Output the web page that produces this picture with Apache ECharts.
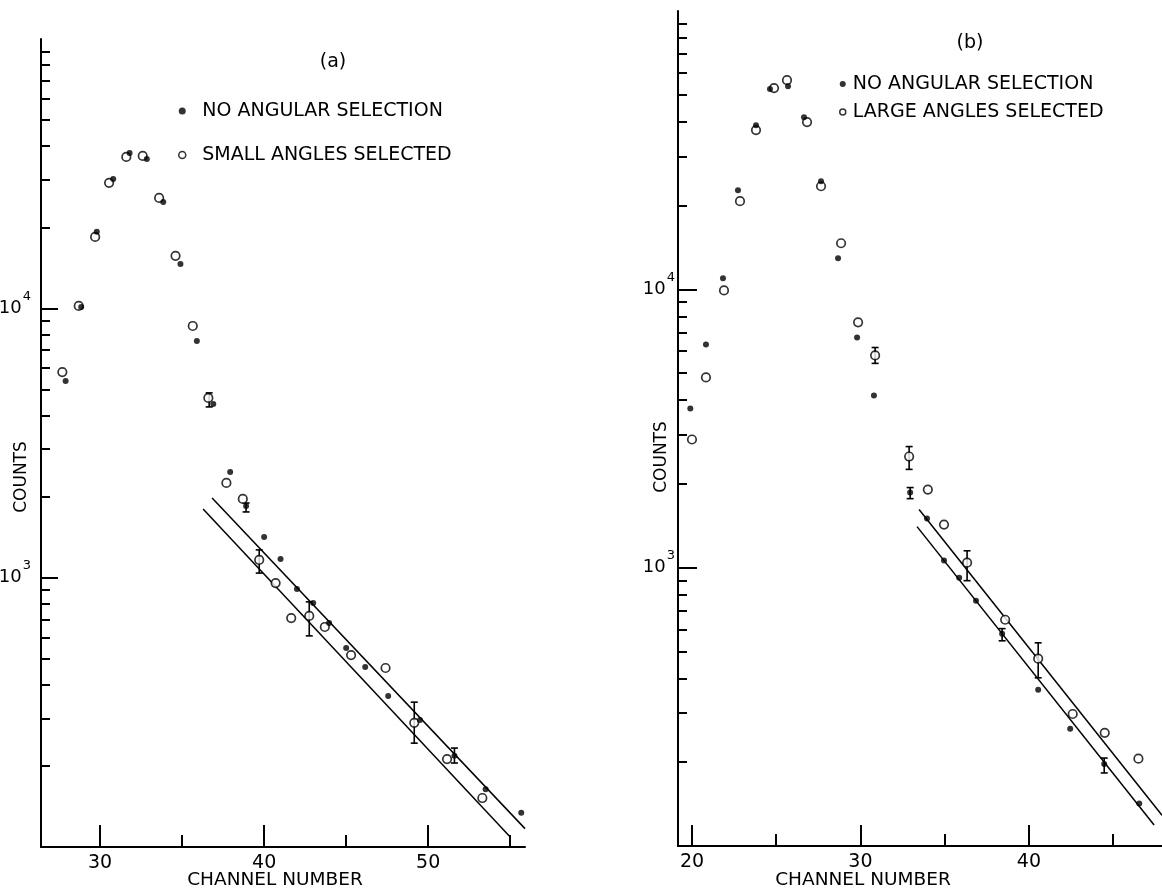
<!DOCTYPE html>
<html><head><meta charset="utf-8">
<script src="https://cdn.jsdelivr.net/npm/echarts@6/dist/echarts.min.js"></script>
<style>html,body{margin:0;padding:0;background:#fff}#c{width:1162px;height:888px}</style>
</head><body><div id="c"></div>
<script>
// ---------- Panel (a) ----------
const aNoSelX = [27.9, 28.85, 29.8, 30.8, 31.8, 32.85, 33.85, 34.9, 35.9, 36.9, 37.93, 38.9, 40.0, 41.0, 42.0, 42.99, 43.96, 45.0, 46.16, 47.56, 49.5, 51.6, 53.5, 55.67];
const aNoSelY = [5370, 10120, 19230, 30200, 37760, 35880, 24840, 14620, 7570, 4416, 2467, 1846, 1416, 1174, 908, 805, 679, 548, 466, 364, 296, 218, 164, 134];
const aSmallX = [27.7, 28.7, 29.7, 30.55, 31.6, 32.6, 33.6, 34.6, 35.65, 36.6, 37.7, 38.7, 39.7, 40.7, 41.65, 42.75, 43.7, 45.3, 47.4, 49.15, 51.15, 53.3];
const aSmallY = [5800, 10210, 18410, 29230, 36490, 36800, 25700, 15660, 8600, 4650, 2248, 1960, 1164, 955, 708, 721, 656, 516, 462, 289, 212, 152];
const aErrX = [36.65, 38.9, 39.7, 42.75, 49.15, 51.6];
const aErrLo = [4305, 1754, 1040, 608, 243, 205];
const aErrHi = [4853, 1893, 1268, 813, 345, 233];
const aFitUpperX = [36.83, 55.9];
const aFitUpperY = [1977, 117];
const aFitLowerX = [36.28, 55.0];
const aFitLowerY = [1799, 109];

// ---------- Panel (b) ----------
const bNoSelX = [19.9, 20.83, 21.84, 22.73, 23.8, 24.63, 25.7, 26.65, 27.66, 28.67, 29.8, 30.8, 32.95, 33.95, 34.96, 35.86, 36.86, 38.41, 40.55, 42.45, 44.47, 46.55];
const bNoSelY = [3733, 6340, 10960, 22700, 38900, 52400, 53700, 41540, 24450, 12930, 6720, 4156, 1862, 1501, 1060, 920, 761, 579, 364, 264, 197, 142];
const bLargeX = [20.0, 20.83, 21.9, 22.85, 23.8, 24.87, 25.64, 26.83, 27.66, 28.85, 29.86, 30.87, 32.89, 34.0, 34.96, 36.33, 38.59, 40.55, 42.6, 44.5, 46.5];
const bLargeY = [2887, 4825, 9910, 20740, 37330, 52840, 56440, 39880, 23460, 14640, 7610, 5790, 2508, 1908, 1428, 1042, 650, 471, 298, 255, 206];
const bErrX = [30.87, 32.89, 32.95, 36.33, 38.41, 40.55, 44.47];
const bErrLo = [5420, 2255, 1770, 898, 546, 402, 183];
const bErrHi = [6180, 2723, 1940, 1150, 604, 537, 207];
const bFitUpperX = [33.48, 47.9];
const bFitUpperY = [1617, 129];
const bFitLowerX = [33.36, 47.43];
const bFitLowerY = [1404, 119];

// ---------- Tick values ----------
const aXMajor = [30, 40, 50];
const aXMinor = [35, 45, 55];
const bXMajor = [20, 30, 40];
const bXMinor = [25, 35, 45];
const yMajor = [1000, 10000];
const yMinor = [200, 300, 400, 500, 600, 700, 800, 900, 2000, 3000, 4000, 5000, 6000, 7000, 8000, 9000, 20000, 30000, 40000, 50000, 60000, 70000, 80000, 90000];

const NAME_NO = 'NO ANGULAR SELECTION';
const NAME_SMALL = 'SMALL ANGLES SELECTED';
const NAME_LARGE = 'LARGE ANGLES SELECTED';

const FONT = 'DejaVu Sans';
const zip = (xs, ys) => xs.map((x, i) => [x, ys[i]]);
const zip3 = (xs, a, b) => xs.map((x, i) => [x, a[i], b[i]]);

function xAxes(grid, min, max, majors, minors, tickLen) {
  return [
    { type: 'value', gridIndex: grid, min, max, position: 'bottom',
      axisLine: { show: true, onZero: false, lineStyle: { color: '#000', width: 2 } },
      axisTick: { show: true, inside: true, length: tickLen, customValues: majors, lineStyle: { color: '#000', width: 2 } },
      axisLabel: { show: true, customValues: majors, color: '#000', fontSize: 19, fontFamily: FONT, margin: 7 },
      splitLine: { show: false } },
    { type: 'value', gridIndex: grid, min, max, position: 'bottom',
      axisLine: { show: false, onZero: false },
      axisTick: { show: true, inside: true, length: 12, customValues: minors, lineStyle: { color: '#000', width: 2 } },
      axisLabel: { show: false },
      splitLine: { show: false } }
  ];
}
function yAxes(grid, labelMargin, majorLen) {
  return [
    { type: 'log', logBase: 10, gridIndex: grid, min: 100, max: 100000, position: 'left',
      axisLine: { show: true, onZero: false, lineStyle: { color: '#000', width: 2 } },
      axisTick: { show: true, inside: true, length: majorLen, customValues: yMajor, lineStyle: { color: '#000', width: 2 } },
      axisLabel: { show: true, customValues: yMajor, margin: labelMargin, color: '#000',
        formatter: v => '{b|10}{s|' + Math.round(Math.log10(v)) + '}',
        rich: {
          b: { fontSize: 18, lineHeight: 18, fontFamily: FONT, color: '#000' },
          s: { fontSize: 13, lineHeight: 13, fontFamily: FONT, color: '#000', padding: [0, 0, 24, 1] }
        } },
      splitLine: { show: false } },
    { type: 'log', logBase: 10, gridIndex: grid, min: 100, max: 100000, position: 'left',
      axisLine: { show: false, onZero: false },
      axisTick: { show: true, inside: true, length: 9, customValues: yMinor, lineStyle: { color: '#000', width: 2 } },
      axisLabel: { show: false },
      splitLine: { show: false } }
  ];
}

function errRender(params, api) {
  const x = api.value(0), lo = api.value(1), hi = api.value(2);
  const p1 = api.coord([x, hi]), p2 = api.coord([x, lo]);
  const w = 3.5;
  const st = { stroke: '#000', lineWidth: 1.6 };
  return { type: 'group', children: [
    { type: 'line', shape: { x1: p1[0], y1: p1[1], x2: p2[0], y2: p2[1] }, style: st },
    { type: 'line', shape: { x1: p1[0] - w, y1: p1[1], x2: p1[0] + w, y2: p1[1] }, style: st },
    { type: 'line', shape: { x1: p2[0] - w, y1: p2[1], x2: p2[0] + w, y2: p2[1] }, style: st }
  ] };
}

const filledStyle = { color: '#000' };
const openStyle = { color: '#fff', borderColor: '#000', borderWidth: 1.7 };

function panelSeries(xi, noX, noY, opName, opX, opY, eX, eLo, eHi, fux, fuy, flx, fly) {
  const fit = (xs, ys) => ({ type: 'line', xAxisIndex: xi, yAxisIndex: xi, data: zip(xs, ys), showSymbol: false, symbol: 'none',
    lineStyle: { color: '#000', width: 1.5 }, silent: true, z: 1, animation: false });
  return [
    fit(fux, fuy), fit(flx, fly),
    { type: 'custom', xAxisIndex: xi, yAxisIndex: xi, renderItem: errRender, data: zip3(eX, eLo, eHi), z: 2, silent: true, animation: false },
    { name: opName, type: 'scatter', xAxisIndex: xi, yAxisIndex: xi, data: zip(opX, opY), symbol: 'circle', symbolSize: 8.5, itemStyle: openStyle, z: 3, animation: false },
    { name: NAME_NO, type: 'scatter', xAxisIndex: xi, yAxisIndex: xi, data: zip(noX, noY), symbol: 'circle', symbolSize: 6, itemStyle: filledStyle, z: 4, animation: false }
  ];
}

const chart = echarts.init(document.getElementById('c'), null, { renderer: 'canvas' });
const option = {
  backgroundColor: '#fff',
  animation: false,
  grid: [
    { left: 41, top: 39, width: 484, height: 808, outerBoundsMode: 'none', containLabel: false },
    { left: 678, top: 11, width: 484, height: 835, outerBoundsMode: 'none', containLabel: false }
  ],
  xAxis: [
    ...xAxes(0, 26.4, 55.9, aXMajor, aXMinor, 22),
    ...xAxes(1, 19.17, 47.9, bXMajor, bXMinor, 21)
  ],
  yAxis: [
    ...yAxes(0, 10, 17),
    ...yAxes(1, 3, 19)
  ],
  legend: [
    { orient: 'vertical', left: 178, top: 101, padding: 0, itemGap: 24, itemWidth: 30, itemHeight: 7, selectedMode: false,
      textStyle: { fontSize: 19, fontFamily: FONT, color: '#000', lineHeight: 20 },
      data: [
        { name: NAME_NO, icon: 'circle', itemStyle: { color: '#000', borderWidth: 0 } },
        { name: NAME_SMALL, icon: 'circle', itemStyle: { color: '#fff', borderColor: '#000', borderWidth: 1.5 } }
      ] },
    { orient: 'vertical', left: 839, top: 74, padding: 0, itemGap: 8, itemWidth: 10, itemHeight: 6, selectedMode: false,
      textStyle: { fontSize: 19, fontFamily: FONT, color: '#000', lineHeight: 20 },
      data: [
        { name: NAME_NO, icon: 'circle', itemStyle: { color: '#000', borderWidth: 0 } },
        { name: NAME_LARGE, icon: 'circle', itemStyle: { color: '#fff', borderColor: '#000', borderWidth: 1.5 } }
      ] }
  ],
  graphic: [
    { type: 'text', x: 333, y: 62, style: { text: '(a)', fontSize: 19, fontFamily: FONT, fill: '#000', align: 'center', verticalAlign: 'middle' } },
    { type: 'text', x: 970, y: 43, style: { text: '(b)', fontSize: 19, fontFamily: FONT, fill: '#000', align: 'center', verticalAlign: 'middle' } },
    { type: 'text', x: 275, y: 880, style: { text: 'CHANNEL NUMBER', fontSize: 18.5, fontFamily: FONT, fill: '#000', align: 'center', verticalAlign: 'middle' } },
    { type: 'text', x: 863, y: 880, style: { text: 'CHANNEL NUMBER', fontSize: 18.5, fontFamily: FONT, fill: '#000', align: 'center', verticalAlign: 'middle' } },
    { type: 'text', x: 22, y: 477, rotation: Math.PI / 2, style: { text: 'COUNTS', fontSize: 17, fontFamily: FONT, fill: '#000', align: 'center', verticalAlign: 'middle' } },
    { type: 'text', x: 662, y: 457, rotation: Math.PI / 2, style: { text: 'COUNTS', fontSize: 17, fontFamily: FONT, fill: '#000', align: 'center', verticalAlign: 'middle' } }
  ],
  series: [
    ...panelSeries(0, aNoSelX, aNoSelY, NAME_SMALL, aSmallX, aSmallY, aErrX, aErrLo, aErrHi, aFitUpperX, aFitUpperY, aFitLowerX, aFitLowerY),
    ...panelSeries(2, bNoSelX, bNoSelY, NAME_LARGE, bLargeX, bLargeY, bErrX, bErrLo, bErrHi, bFitUpperX, bFitUpperY, bFitLowerX, bFitLowerY)
  ]
};
chart.setOption(option);
</script>
</body></html>
